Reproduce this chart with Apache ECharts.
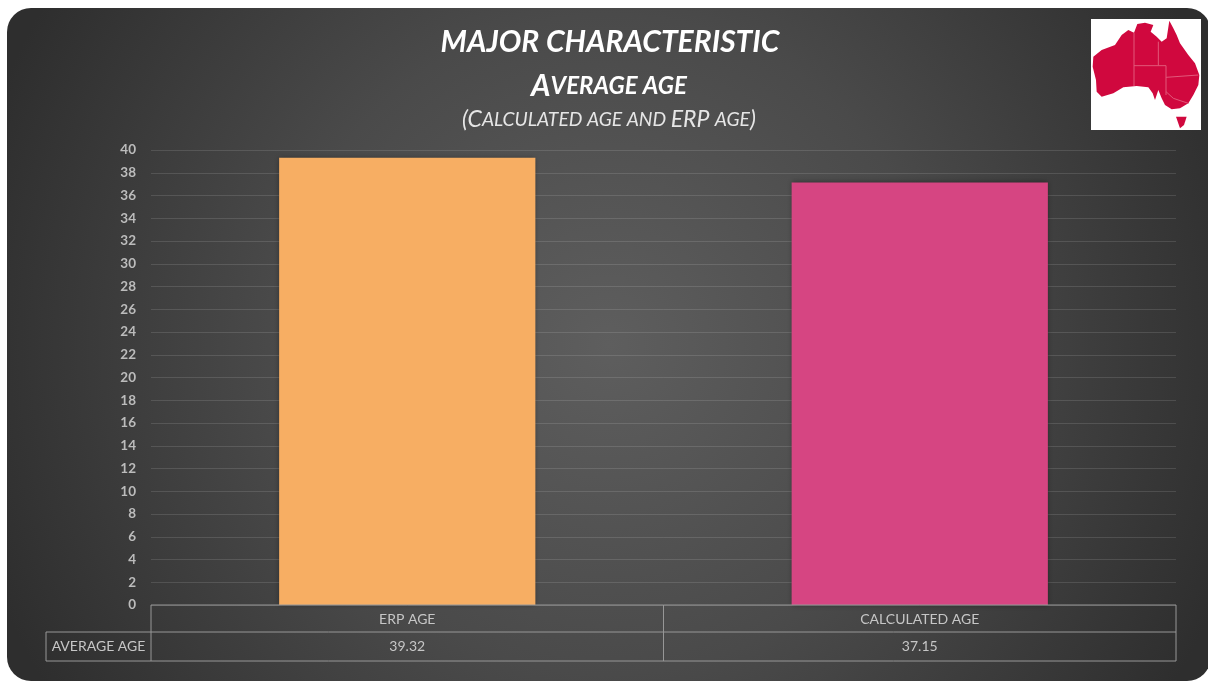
<!DOCTYPE html>
<html>
<head>
<meta charset="utf-8">
<style>html,body{margin:0;padding:0;background:#fff}#chart{width:1208px;height:682px}</style>
<script src="https://cdn.jsdelivr.net/npm/echarts@6/dist/echarts.min.js"></script>
</head>
<body>
<div id="chart"></div>
<script>
// Chart content
const categories = ['ERP AGE', 'CALCULATED AGE'];
const averageAge = [39.32, 37.15];
const averageAgeText = ['39.32', '37.15'];
const rowName = 'AVERAGE AGE';
const barColors = ['#F7AE63', '#D64582'];
const yMax = 40;
const yStep = 2;

// Layout of the plot area and the table beneath it
const plot = { left: 151, right: 1176, top: 150, bottom: 605 };
const table = { rowLine: 632, bottom: 661, headLeft: 46 };
const tableMid = (plot.left + plot.right) / 2;
const lineColor = '#979797';
const font = 'Lato, "Open Sans", sans-serif';

function tableLine(x1, y1, x2, y2) {
  return { type: 'line', silent: true, z: 5,
    shape: { x1, y1, x2, y2 }, style: { stroke: lineColor, lineWidth: 1 } };
}
function tableText(x, y, text) {
  return { type: 'text', silent: true, z: 5, x, y,
    style: { text, fill: '#c6c6c6', font: '14px ' + font, align: 'center', verticalAlign: 'middle' } };
}

// Outline of the mainland and Tasmania, in logo units
const mainland = [[100,170],[125,150],[165,135],[185,105],[205,90],[222,98],[232,72],[255,68],[280,75],[272,95],
  [290,110],[305,125],[320,115],[328,62],[340,85],[350,105],[360,130],[385,165],[405,190],[418,225],[415,255],
  [400,285],[385,310],[360,325],[335,328],[315,315],[305,295],[295,270],[285,300],[278,280],[265,262],[230,258],
  [190,262],[160,280],[125,290],[110,275],[108,240],[98,200]];
const tasmania = [[348,350],[380,350],[372,375],[360,385]];
const borders = [
  [[222,98],[222,258]], [[222,197],[318,197]], [[295,125],[295,197]], [[318,197],[318,285]],
  [[318,232],[415,225]], [[318,275],[340,295],[385,310]]
];
const toLogo = p => [1060 + p[0] / 3, p[1] / 3];

const logo = [
  { type: 'rect', silent: true, z: 6, shape: { x: 1091, y: 19, width: 110, height: 111 }, style: { fill: '#ffffff' } },
  { type: 'polygon', silent: true, z: 7, shape: { points: mainland.map(toLogo) }, style: { fill: '#D0083E' } },
  { type: 'polygon', silent: true, z: 7, shape: { points: tasmania.map(toLogo) }, style: { fill: '#D0083E' } }
].concat(borders.map(b => ({
  type: 'polyline', silent: true, z: 8, shape: { points: b.map(toLogo) },
  style: { stroke: '#E2587A', lineWidth: 1, fill: null }
})));

const titleStyle = (size, weight, color) => ({ color, fontFamily: font, fontSize: size, fontWeight: weight, fontStyle: 'italic' });

const option = {
  animation: false,
  backgroundColor: '#ffffff',
  title: [
    { text: 'MAJOR CHARACTERISTIC', left: 605, top: 22, textAlign: 'center',
      textStyle: titleStyle(30, 'bold', '#fff') },
    { text: '{big|A}{small|VERAGE AGE}', left: 604, top: 66, textAlign: 'center',
      textStyle: { rich: { big: titleStyle(30, 'bold', '#fff'), small: titleStyle(24, 'bold', '#fff') } } },
    { text: '{big|(C}{small|ALCULATED AGE AND }{big|ERP }{small|AGE}{big|)}', left: 604, top: 103, textAlign: 'center',
      textStyle: { rich: { big: titleStyle(23, 'normal', '#e6e6e6'), small: titleStyle(19.3, 'normal', '#e6e6e6') } } }
  ],
  grid: { left: plot.left, right: 1208 - plot.right, top: plot.top, bottom: 682 - plot.bottom },
  xAxis: { type: 'category', data: categories,
    axisLine: { show: false }, axisTick: { show: false }, axisLabel: { show: false } },
  yAxis: { type: 'value', min: 0, max: yMax, interval: yStep,
    axisLine: { show: false }, axisTick: { show: false },
    axisLabel: { color: '#bcbcbc', fontFamily: font, fontSize: 13.5, fontWeight: 'bold', margin: 15 },
    splitLine: { lineStyle: { color: 'rgba(255,255,255,0.12)', width: 1 } } },
  series: [{
    type: 'bar', barWidth: '50%',
    data: averageAge.map((v, i) => ({ value: v, itemStyle: { color: barColors[i] } })),
    itemStyle: { shadowColor: 'rgba(0,0,0,0.4)', shadowBlur: 5 }
  }],
  graphic: { elements: [
    // Dark rounded panel with a soft central glow
    { type: 'rect', silent: true, z: -10, zlevel: -1,
      shape: { x: 7, y: 8, width: 1204, height: 673, r: 24 },
      style: { fill: { type: 'radial', x: 0.5, y: 0.5, r: 0.98, colorStops: [
        { offset: 0, color: '#5e5e5e' }, { offset: 0.5, color: '#4a4a4a' }, { offset: 1, color: '#2e2e2e' } ] } } },
    // Data table under the plot
    tableLine(plot.left, plot.bottom, plot.right, plot.bottom),
    tableLine(table.headLeft, table.rowLine, plot.right, table.rowLine),
    tableLine(table.headLeft, table.bottom, plot.right, table.bottom),
    tableLine(table.headLeft, table.rowLine, table.headLeft, table.bottom),
    tableLine(plot.left, plot.bottom, plot.left, table.bottom),
    tableLine(tableMid, plot.bottom, tableMid, table.bottom),
    tableLine(plot.right, plot.bottom, plot.right, table.bottom),
    tableText((table.headLeft + plot.left) / 2, (table.rowLine + table.bottom) / 2, rowName),
    tableText((plot.left + tableMid) / 2, (plot.bottom + table.rowLine) / 2 + 1, categories[0]),
    tableText((tableMid + plot.right) / 2, (plot.bottom + table.rowLine) / 2 + 1, categories[1]),
    tableText((plot.left + tableMid) / 2, (table.rowLine + table.bottom) / 2, averageAgeText[0]),
    tableText((tableMid + plot.right) / 2, (table.rowLine + table.bottom) / 2, averageAgeText[1])
  ].concat(logo) }
};

echarts.init(document.getElementById('chart')).setOption(option);
</script>
</body>
</html>
